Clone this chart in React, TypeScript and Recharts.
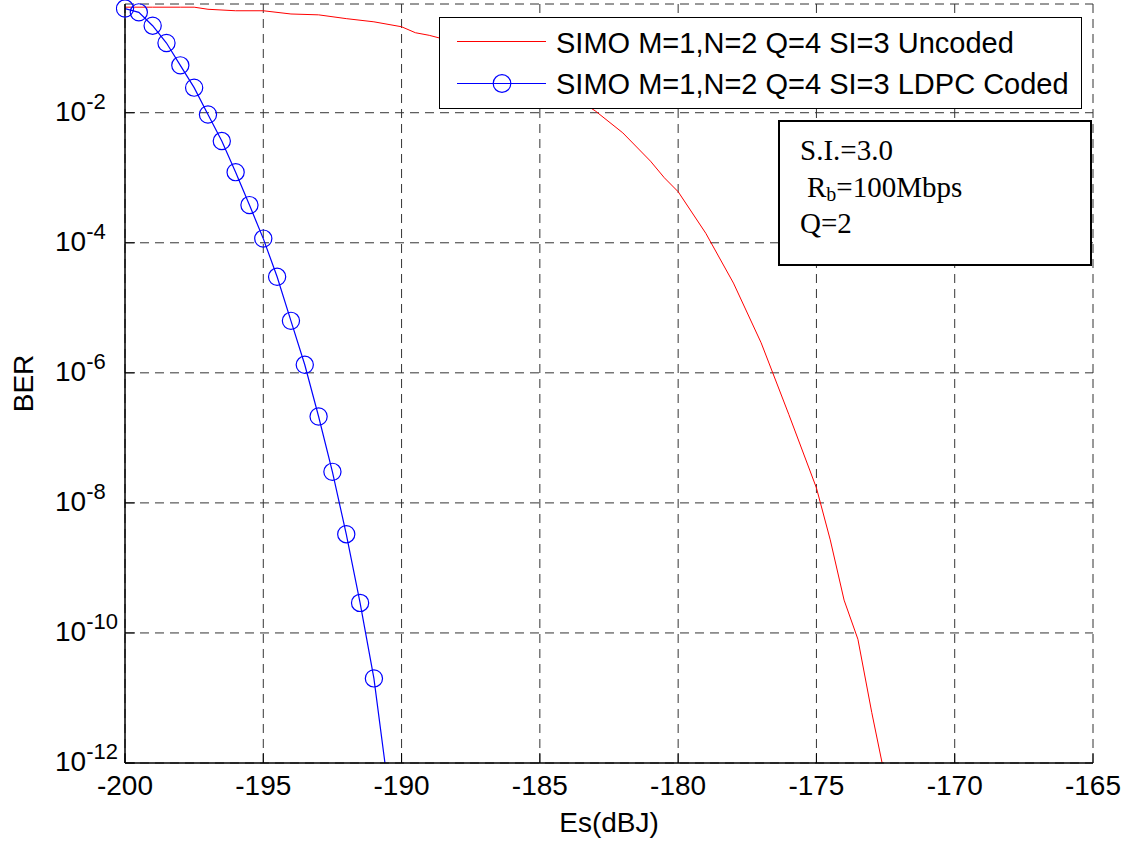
import { LineChart, Line, XAxis, YAxis, CartesianGrid, Legend } from 'recharts'

const SANS = '"Liberation Sans", Arial, Helvetica, sans-serif'
const SERIF = '"Liberation Serif", "Times New Roman", serif'

// axis ticks
const xTicks = [-200, -195, -190, -185, -180, -175, -170, -165]
const yTicks = [1e-12, 1e-10, 1e-8, 1e-6, 1e-4, 1e-2]

// uncoded curve (red)
const uncodedEs = [
  -200, -199, -198, -197.5, -197, -196, -195, -194, -193, -192, -191, -190, -189.5, -189, -188, -187, -186,
  -185, -184, -183, -182, -181, -180.5, -180, -179, -178, -177, -176, -175, -174.5, -174, -173.5, -173, -172.5,
]
const uncodedBer = [
  0.42, 0.42, 0.42, 0.42, 0.39, 0.37, 0.37, 0.33, 0.32, 0.28, 0.25, 0.21, 0.17, 0.155, 0.12, 0.085, 0.055,
  0.034, 0.02, 0.0107, 4.9e-3, 1.8e-3, 1.0e-3, 6.1e-4, 1.4e-4, 2.4e-5, 2.9e-6, 2.3e-7, 1.7e-8, 2.7e-9, 3.2e-10,
  8e-11, 6.0e-12, 5.5e-13,
]

// LDPC coded curve (blue, with markers)
const codedEs = [
  -200, -199.5, -199, -198.5, -198, -197.5, -197, -196.5, -196, -195.5, -195, -194.5, -194, -193.5, -193,
  -192.5, -192, -191.5, -191, -190.5,
]
const codedBer = [
  0.40, 0.35, 0.218, 0.118, 0.0535, 0.0243, 9.4e-3, 3.67e-3, 1.22e-3, 3.8e-4, 1.16e-4, 3.0e-5, 6.3e-6, 1.33e-6,
  2.13e-7, 3.0e-8, 3.3e-9, 2.9e-10, 2.0e-11, 4.7e-13,
]

const uncodedData = uncodedEs.map((x, i) => ({ x, ber: uncodedBer[i] }))
const codedData = codedEs.map((x, i) => ({ x, ber: codedBer[i] }))

const legendLabels = ['SIMO M=1,N=2 Q=4 SI=3 Uncoded', 'SIMO M=1,N=2 Q=4 SI=3 LDPC Coded']

function XTick({ x, y, payload }: any) {
  return (
    <g>
      <line x1={x} x2={x} y1={y} y2={y - 10} stroke="#000" strokeWidth={1} />
      <text x={x} y={y + 32} textAnchor="middle" fontFamily={SANS} fontSize={28} fill="#000">
        {payload.value}
      </text>
    </g>
  )
}

function YTick({ x, y, payload }: any) {
  const exp = Math.round(Math.log10(payload.value))
  return (
    <g>
      <line x1={x} x2={x + 10} y1={y} y2={y} stroke="#000" strokeWidth={1} />
      <text x={x - 70} y={y + 8} fontFamily={SANS} fill="#000">
        <tspan fontSize={28}>10</tspan>
        <tspan fontSize={22} dy={-12}>
          {exp}
        </tspan>
      </text>
    </g>
  )
}

function TopTick({ x, y }: any) {
  return <line x1={x} x2={x} y1={y} y2={y + 10} stroke="#000" strokeWidth={1} />
}

function RightTick({ x, y }: any) {
  return <line x1={x} x2={x - 10} y1={y} y2={y} stroke="#000" strokeWidth={1} />
}

function LegendBox() {
  return (
    <svg width={643} height={92} style={{ display: 'block' }}>
      <rect x={0.5} y={0.5} width={642} height={91} fill="#fff" stroke="#000" strokeWidth={1} />
      <line x1={18} x2={107} y1={24.5} y2={24.5} stroke="#ff0000" strokeWidth={1} />
      <text x={117} y={35.5} fontFamily={SANS} fontSize={29} fill="#000">
        {legendLabels[0]}
      </text>
      <line x1={18} x2={107} y1={66.5} y2={66.5} stroke="#0000ff" strokeWidth={1.2} />
      <circle cx={63} cy={66.5} r={8.8} fill="none" stroke="#0000ff" strokeWidth={1.2} />
      <text x={117} y={76.5} fontFamily={SANS} fontSize={29} fill="#000">
        {legendLabels[1]}
      </text>
    </svg>
  )
}

export default function App() {
  return (
    <div style={{ position: 'absolute', left: 0, top: 0, width: 1125, height: 842, background: '#fff' }}>
      <LineChart width={1125} height={842} margin={{ top: 4, right: 32, bottom: 0, left: 0 }}>
        <CartesianGrid stroke="#333" strokeDasharray="9 6" strokeWidth={1} />
        <XAxis
          dataKey="x"
          type="number"
          domain={[-200, -165]}
          ticks={xTicks}
          interval={0}
          allowDataOverflow
          height={79}
          tickSize={0}
          tickMargin={0}
          tickLine={false}
          axisLine={{ stroke: '#000', strokeWidth: 1.5 }}
          tick={<XTick />}
          label={(p: any) => {
            const vb = p.viewBox
            return (
              <text x={vb.x + vb.width / 2} y={vb.y + 69} textAnchor="middle" fontFamily={SANS} fontSize={28} fill="#000">
                Es(dBJ)
              </text>
            )
          }}
        />
        <XAxis
          xAxisId="top"
          orientation="top"
          type="number"
          domain={[-200, -165]}
          ticks={xTicks}
          interval={0}
          height={0}
          tickSize={0}
          tickMargin={0}
          tickLine={false}
          axisLine={{ stroke: '#000', strokeWidth: 1.5 }}
          tick={<TopTick />}
        />
        <YAxis
          scale="log"
          type="number"
          domain={[1e-12, 0.47]}
          ticks={yTicks}
          interval={0}
          allowDataOverflow
          width={125}
          tickSize={0}
          tickMargin={0}
          tickLine={false}
          axisLine={{ stroke: '#000', strokeWidth: 1.5 }}
          tick={<YTick />}
          label={(p: any) => {
            const vb = p.viewBox
            const cy = vb.y + vb.height / 2
            return (
              <text
                x={33}
                y={cy}
                textAnchor="middle"
                transform={`rotate(-90, 33, ${cy})`}
                fontFamily={SANS}
                fontSize={28}
                fill="#000"
              >
                BER
              </text>
            )
          }}
        />
        <YAxis
          yAxisId="right"
          orientation="right"
          scale="log"
          type="number"
          domain={[1e-12, 0.47]}
          ticks={yTicks}
          interval={0}
          allowDataOverflow
          width={0}
          tickSize={0}
          tickMargin={0}
          tickLine={false}
          axisLine={{ stroke: '#000', strokeWidth: 1.5 }}
          tick={<RightTick />}
        />
        <Line
          data={uncodedData}
          dataKey="ber"
          name={legendLabels[0]}
          type="linear"
          stroke="#ff0000"
          strokeWidth={1}
          dot={false}
          activeDot={false}
          isAnimationActive={false}
        />
        <Line
          data={codedData}
          dataKey="ber"
          name={legendLabels[1]}
          type="linear"
          stroke="#0000ff"
          strokeWidth={1.2}
          dot={{ r: 8.6, fill: 'none', stroke: '#0000ff', strokeWidth: 1.2, clipDot: false }}
          activeDot={false}
          isAnimationActive={false}
        />
        <Legend
          layout="horizontal"
          verticalAlign="middle"
          align="center"
          content={() => <LegendBox />}
          wrapperStyle={{ position: 'absolute', left: 439, top: 17, width: 643, height: 92 }}
        />
      </LineChart>
      <svg width={314} height={146} style={{ position: 'absolute', left: 778, top: 120 }}>
        <rect x={1} y={1} width={312} height={144} fill="#fff" stroke="#000" strokeWidth={2} />
        <text x={22} y={40} fontFamily={SERIF} fontSize={29} fill="#000">
          S.I.=3.0
        </text>
        <text x={29} y={77} fontFamily={SERIF} fontSize={29} fill="#000">
          R<tspan fontSize={20} dy={4}>b</tspan>
          <tspan dy={-4}>=100Mbps</tspan>
        </text>
        <text x={22} y={113} fontFamily={SERIF} fontSize={29} fill="#000">
          Q=2
        </text>
      </svg>
    </div>
  )
}
